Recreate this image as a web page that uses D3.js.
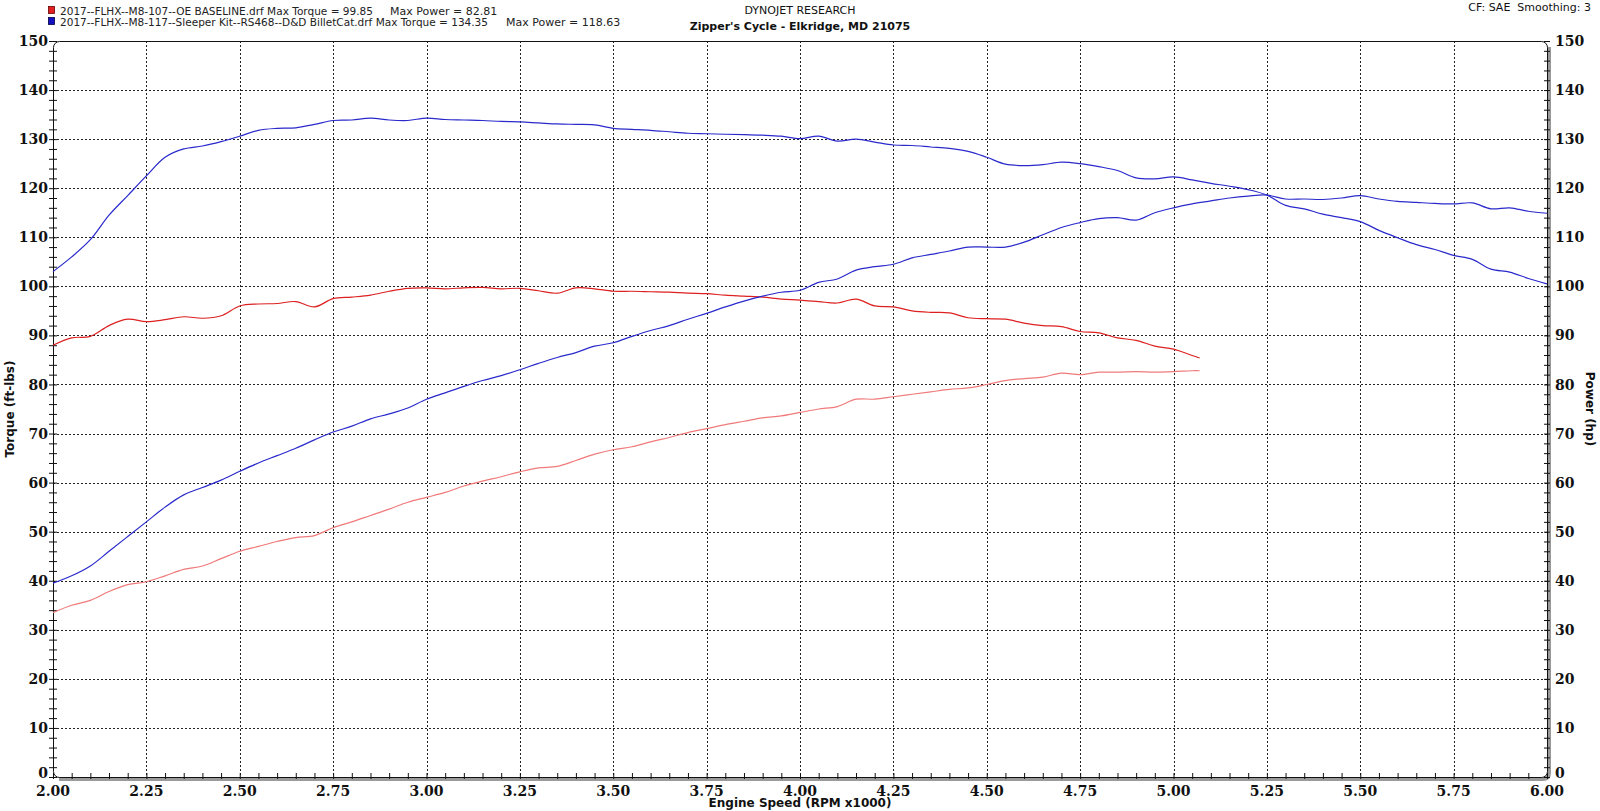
<!DOCTYPE html>
<html><head><meta charset="utf-8">
<script src="https://cdn.jsdelivr.net/npm/d3@7"></script>
<style>
html,body{margin:0;padding:0;background:#fff;}
svg{display:block;}
</style></head>
<body>
<svg id="chart" width="1600" height="811"></svg>
<script>
// ---------- DATA ----------
const rpmBlue = [2.00,2.05,2.10,2.15,2.20,2.25,2.30,2.35,2.40,2.45,2.50,2.55,2.60,2.65,2.70,2.75,2.80,2.85,2.90,2.95,
3.00,3.05,3.10,3.15,3.20,3.25,3.30,3.35,3.40,3.45,3.50,3.55,3.60,3.65,3.70,3.75,3.80,3.85,3.90,3.95,
4.00,4.05,4.10,4.15,4.20,4.25,4.30,4.35,4.40,4.45,4.50,4.55,4.60,4.65,4.70,4.75,4.80,4.85,4.90,4.95,
5.00,5.05,5.10,5.15,5.20,5.25,5.30,5.35,5.40,5.45,5.50,5.55,5.60,5.65,5.70,5.75,5.80,5.85,5.90,5.95,6.00];
const torqueBlue = [103,106,109.5,114.5,118.5,122.5,126.3,128,128.6,129.5,130.6,131.8,132.2,132.3,133,133.8,133.9,134.3,133.9,133.8,
134.3,134,133.9,133.8,133.6,133.5,133.3,133.1,133,132.9,132.2,132,131.8,131.5,131.2,131.1,131,130.9,130.8,130.6,
130.1,130.6,129.6,130,129.4,128.8,128.7,128.4,128.1,127.5,126.3,124.9,124.6,124.8,125.3,125,124.4,123.6,122.1,121.9,
122.3,121.7,121,120.4,119.7,118.6,116.5,115.8,114.7,114,113.2,111.4,109.9,108.5,107.5,106.3,105.5,103.5,102.9,101.6,100.5];
const powerBlue = [39.5,41,43,46,49,52,55,57.5,59,60.5,62.3,64,65.5,67,68.7,70.3,71.5,73,74,75.2,
77,78.3,79.6,80.8,81.8,83,84.3,85.5,86.5,87.8,88.5,89.8,91,92,93.3,94.5,95.8,97,98,98.8,
99.2,100.8,101.5,103.3,104,104.5,105.8,106.5,107.2,108,108,108,109,110.5,112,113,113.8,114,113.5,115,
116,116.8,117.4,118,118.4,118.6,117.8,117.8,117.7,118,118.5,117.8,117.3,117.1,116.9,116.8,117,115.8,116,115.3,114.9];

const rpmRed = [2.00,2.05,2.10,2.15,2.20,2.25,2.30,2.35,2.40,2.45,2.50,2.55,2.60,2.65,2.70,2.75,2.80,2.85,2.90,2.95,
3.00,3.05,3.10,3.15,3.20,3.25,3.30,3.35,3.40,3.45,3.50,3.55,3.60,3.65,3.70,3.75,3.80,3.85,3.90,3.95,
4.00,4.05,4.10,4.15,4.20,4.25,4.30,4.35,4.40,4.45,4.50,4.55,4.60,4.65,4.70,4.75,4.80,4.85,4.90,4.95,
5.00,5.05,5.07];
const torqueRed = [88,89.5,89.8,92,93.3,92.8,93.2,93.8,93.5,94,96,96.4,96.5,96.9,95.8,97.5,97.8,98.2,99,99.6,
99.7,99.5,99.7,99.8,99.5,99.6,99.1,98.6,99.7,99.5,99,99,98.9,98.8,98.6,98.5,98.2,98,97.8,97.4,
97.2,96.9,96.6,97.4,96,95.8,95,94.7,94.6,93.6,93.4,93.3,92.5,92,91.8,90.8,90.5,89.5,89,87.8,
87.2,85.9,85.4];
const powerRed = [33.5,35,36,37.8,39.2,39.8,41,42.3,43,44.5,46,47,48,48.8,49.2,50.8,52,53.3,54.6,56,
57,58,59.3,60.3,61.2,62.2,63,63.3,64.5,65.8,66.7,67.3,68.3,69.2,70.2,71,71.8,72.5,73.2,73.6,
74.3,75,75.5,77,77,77.5,78,78.5,79,79.3,80,80.8,81.2,81.5,82.3,82,82.5,82.5,82.6,82.5,
82.6,82.8,82.8];

const xTicks = [2.00,2.25,2.50,2.75,3.00,3.25,3.50,3.75,4.00,4.25,4.50,4.75,5.00,5.25,5.50,5.75,6.00];
const yTicks = [0,10,20,30,40,50,60,70,80,90,100,110,120,130,140,150];
const legendNames = [
  "2017--FLHX--M8-107--OE BASELINE.drf Max Torque = 99.85",
  "2017--FLHX--M8-117--Sleeper Kit--RS468--D&D BilletCat.drf Max Torque = 134.35"
];
const legendPowers = ["Max Power = 82.81", "Max Power = 118.63"];

// ---------- LAYOUT ----------
const svg = d3.select("#chart");
const L = 53, R = 1547, T = 41, B = 777;
const x = d3.scaleLinear().domain([2,6]).range([L,R]);
const yT = d3.scaleLinear().domain([0,150]).range([B,T]);
const yP = d3.scaleLinear().domain([0,150]).range([B,T]);

const serif = "'DejaVu Serif', serif";
const sans = "'DejaVu Sans', Verdana, sans-serif";

// Grid
const grid = svg.append("g").attr("stroke","#222").attr("stroke-width",1).attr("stroke-dasharray","2,2");
xTicks.slice(1,-1).forEach(v=>{
  grid.append("line").attr("x1",Math.round(x(v))+0.5).attr("x2",Math.round(x(v))+0.5).attr("y1",T).attr("y2",B);
});
yTicks.slice(1,-1).forEach(v=>{
  grid.append("line").attr("y1",Math.round(yT(v))+0.5).attr("y2",Math.round(yT(v))+0.5).attr("x1",L).attr("x2",R);
});

// Frame: gray shadow on bottom/right, black outline with rounded corners
const r = 6;
svg.append("path")
  .attr("d",`M${L+r},${B+2} L${R+2-r},${B+2} Q${R+2},${B+2} ${R+2},${B+2-r} L${R+2},${T+r}`)
  .attr("fill","none").attr("stroke","#9a9a9a").attr("stroke-width",4);
svg.append("rect").attr("x",L+0.5).attr("y",T+0.5).attr("width",R-L).attr("height",B-T)
  .attr("rx",r).attr("ry",r).attr("fill","none").attr("stroke","#111").attr("stroke-width",1);

// Axes using d3 axis generators (minor + major ticks)
const minorX = d3.range(0,81).map(i=>2+i*0.05);
const minorY = d3.range(0,76).map(i=>i*2);
const axB = svg.append("g").attr("transform",`translate(0,${B})`)
  .call(d3.axisBottom(x).tickValues(minorX).tickSize(4).tickFormat(""));
axB.select(".domain").remove();
axB.selectAll(".tick line").attr("y1",-4).attr("y2",2).attr("stroke","#111");

const axL = svg.append("g").attr("transform",`translate(${L},0)`)
  .call(d3.axisLeft(yT).tickValues(minorY).tickSize(4).tickFormat(""));
axL.select(".domain").remove();
axL.selectAll(".tick line").attr("x1",-4).attr("x2",4).attr("stroke","#111");

const axR = svg.append("g").attr("transform",`translate(${R},0)`)
  .call(d3.axisRight(yP).tickValues(minorY).tickSize(4).tickFormat(""));
axR.select(".domain").remove();
axR.selectAll(".tick line").attr("x1",-3).attr("x2",3).attr("stroke","#111");

// Tick labels
const lab = svg.append("g").attr("font-family",serif).attr("font-weight","bold").attr("font-size",14).attr("fill","#111");
xTicks.forEach(v=>{
  lab.append("text").attr("x",x(v)).attr("y",B+19).attr("text-anchor","middle").text(v.toFixed(2));
});
yTicks.forEach(v=>{
  const dy = v===0 ? "0.1em" : "0.36em";
  lab.append("text").attr("x",L-5).attr("y",yT(v)).attr("dy",dy).attr("text-anchor","end").text(v);
  lab.append("text").attr("x",R+8).attr("y",yP(v)).attr("dy",dy).attr("text-anchor","start").text(v);
});

// Axis titles
svg.append("text").attr("x",(L+R)/2).attr("y",807).attr("text-anchor","middle")
  .attr("font-family",sans).attr("font-weight","bold").attr("font-size",12).attr("fill","#111")
  .text("Engine Speed (RPM x1000)");
svg.append("text").attr("transform",`translate(14,${(T+B)/2}) rotate(-90)`).attr("text-anchor","middle")
  .attr("font-family",sans).attr("font-weight","bold").attr("font-size",12).attr("fill","#111")
  .text("Torque (ft-lbs)");
svg.append("text").attr("transform",`translate(1586,${(T+B)/2}) rotate(90)`).attr("text-anchor","middle")
  .attr("font-family",sans).attr("font-weight","bold").attr("font-size",12).attr("fill","#111")
  .text("Power (hp)");

// Header
svg.append("text").attr("x",800).attr("y",14).attr("text-anchor","middle")
  .attr("font-family",sans).attr("font-size",11).attr("fill","#111").text("DYNOJET RESEARCH");
svg.append("text").attr("x",800).attr("y",30).attr("text-anchor","middle")
  .attr("font-family",sans).attr("font-weight","bold").attr("font-size",11).attr("fill","#111").text("Zipper's Cycle - Elkridge, MD 21075");
svg.append("text").attr("x",1591).attr("y",11).attr("text-anchor","end")
  .attr("font-family",sans).attr("font-size",11).attr("fill","#111").attr("xml:space","preserve").text("CF: SAE  Smoothing: 3");

// Legend
const legColors = ["#e02020","#1010c0"];
const nameEnd = [373, 488];
const powX = [390, 506];
legendNames.forEach((name,i)=>{
  const yy = 15 + i*11;
  svg.append("rect").attr("x",48.5).attr("y",yy-8.5).attr("width",6).attr("height",7)
    .attr("fill",legColors[i]).attr("stroke", i===0? "#600":"#004").attr("stroke-width",0.8);
  svg.append("text").attr("x",60).attr("y",yy).attr("font-family",sans).attr("font-size",11).attr("fill","#222")
    .attr("textLength",nameEnd[i]-60).attr("lengthAdjust","spacingAndGlyphs").text(name);
  svg.append("text").attr("x",powX[i]).attr("y",yy).attr("font-family",sans).attr("font-size",11).attr("fill","#222")
    .text(legendPowers[i]);
});

// Curves
function draw(rpms, vals, scale, color){
  const pts = rpms.map((r,i)=>[r, vals[i]]);
  const line = d3.line().x(d=>x(d[0])).y(d=>scale(d[1])).curve(d3.curveCatmullRom.alpha(0.5));
  svg.append("path").datum(pts).attr("d",line).attr("fill","none").attr("stroke",color).attr("stroke-width",1.2);
}
draw(rpmRed, powerRed, yP, "#f07a7a");
draw(rpmRed, torqueRed, yT, "#dd2020");
draw(rpmBlue, powerBlue, yP, "#2a2acc");
draw(rpmBlue, torqueBlue, yT, "#2a2acc");
</script>
</body></html>
